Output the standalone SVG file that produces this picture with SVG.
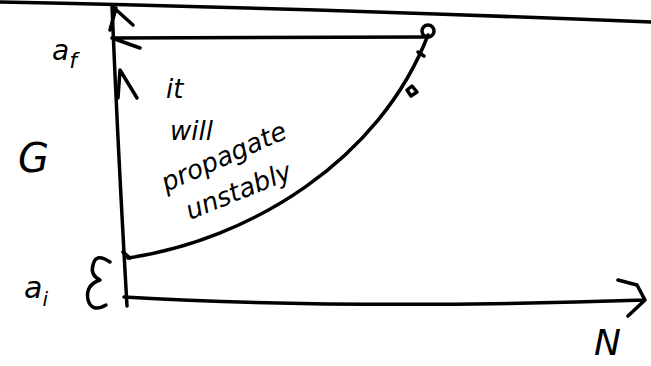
<svg xmlns="http://www.w3.org/2000/svg" width="651" height="366" viewBox="0 0 651 366">
<style>
.s{fill:none;stroke:#000;stroke-width:3.5;stroke-linecap:round;stroke-linejoin:round}
.t{font-family:"DejaVu Sans",sans-serif;fill:#000;font-style:italic}
</style>
<rect width="651" height="366" fill="#fff"/>
<g id="connectors">
<path class="s" d="M0,2 Q300,8 651,22"/>
<path class="s" d="M112,6 Q118,150 127,306"/>
<path class="s" d="M116,8 L110,30 M113,7 L133,25"/>
<path class="s" d="M112,38 L428,37 M112,38 L140,48"/>
<path class="s" d="M118,98 L120,70 L137,98"/>
<path class="s" d="M128,258 C250,240 380,160 428,35"/>
<path class="s" d="M124,297 Q350,310 645,300 M618,280 L637,285 L645,300 L628,316"/>
<path class="s" d="M123,252 L130,258"/>
</g>
<g id="end-point">
<circle class="s" cx="428" cy="31" r="6"/>
<path class="s" d="M418,52 L424,56 M412,86 L417,92 L411,96 L407,90 Z"/>
</g>
<g id="label-af"><text class="t" x="52" y="60" font-size="28">a<tspan font-size="22" dy="8">f</tspan></text></g>
<g id="label-ac"><text class="t" x="18" y="172" font-size="40">G</text></g>
<g id="label-ai"><text class="t" x="24" y="298" font-size="30">a<tspan font-size="20" dy="8">i</tspan></text></g>
<g id="brace"><path class="s" d="M110,262 Q96,252 93,265 Q90,275 100,280 Q85,285 88,300 Q92,313 106,305"/></g>
<g id="label-note">
<text class="t" x="166" y="98" font-size="26">it</text>
<text class="t" x="170" y="140" font-size="26">will</text>
<text class="t" font-size="26" transform="translate(166,192) rotate(-24)">propagate</text>
<text class="t" font-size="26" transform="translate(190,220) rotate(-22)">unstably</text>
</g>
<g id="label-N"><text class="t" x="594" y="355" font-size="36">N</text></g>
</svg>
